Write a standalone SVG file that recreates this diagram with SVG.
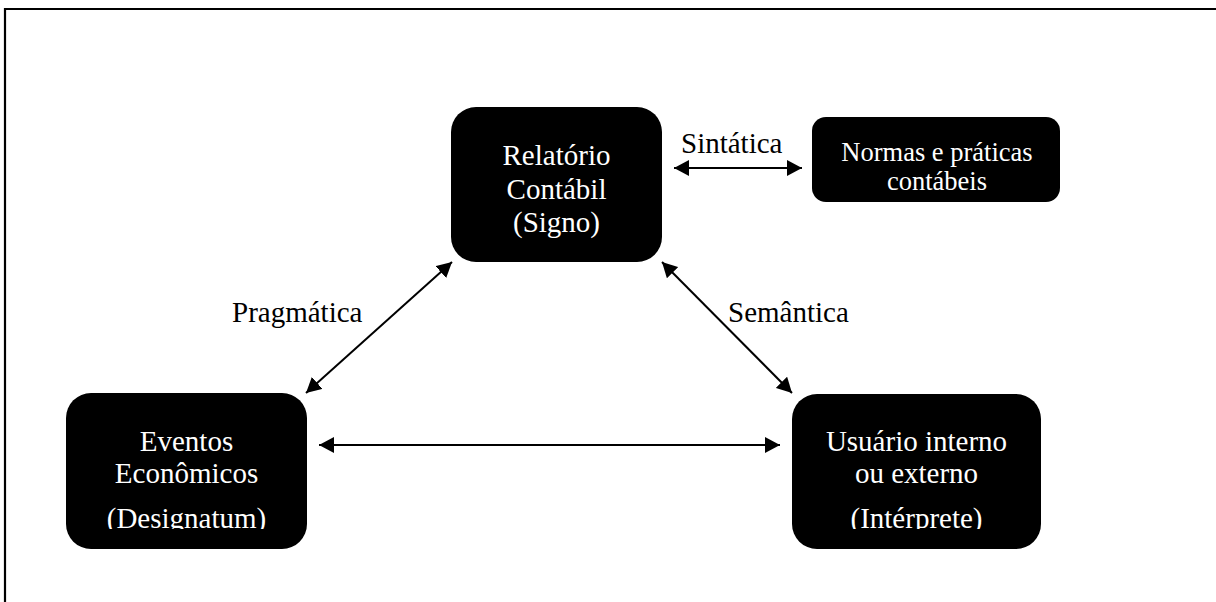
<svg xmlns="http://www.w3.org/2000/svg" width="1216" height="602" viewBox="0 0 1216 602">
  <style>
    .box { fill: #000; }
    .serif { font-family: "Liberation Serif", "Times New Roman", Times, "DejaVu Serif", serif; }
    .node-text { fill: #fff; font-size: 29px; text-anchor: middle; }
    .small { font-size: 26.5px; }
    .label { fill: #000; font-size: 29px; }
    .link { stroke: #000; stroke-width: 2; fill: none; marker-start: url(#head); marker-end: url(#head); }
    .frame { stroke: #000; stroke-width: 2.2; fill: none; }
  </style>
  <defs>
    <marker id="head" viewBox="0 0 15 16" refX="15" refY="8" markerWidth="15" markerHeight="16" markerUnits="userSpaceOnUse" orient="auto-start-reverse">
      <path d="M0,0 L15,8 L0,16 Z" fill="#000"/>
    </marker>
    <!-- the third line of the lower boxes is cut off just under its baseline -->
    <clipPath id="cut-left"><rect x="66" y="393" width="241" height="136"/></clipPath>
    <clipPath id="cut-right"><rect x="792" y="394" width="249" height="135"/></clipPath>
  </defs>

  <!-- page frame (top and left edges only) -->
  <path class="frame" d="M5,602 V9 H1216"/>

  <g id="connectors">
    <line class="link" x1="674" y1="168" x2="802" y2="168"/>
    <line class="link" x1="452" y1="262" x2="306" y2="393"/>
    <line class="link" x1="662" y1="262" x2="792" y2="393"/>
    <line class="link" x1="319" y1="445" x2="780" y2="445"/>
  </g>

  <g id="labels" class="serif" font-family="Liberation Serif, Times New Roman, serif">
    <text class="label" x="681" y="153">Sintática</text>
    <text class="label" x="232" y="322">Pragmática</text>
    <text class="label" x="728" y="322">Semântica</text>
  </g>

  <g id="relatorio" class="serif" font-family="Liberation Serif, Times New Roman, serif">
    <rect class="box" x="451" y="107" width="211" height="155" rx="25" ry="25"/>
    <text class="node-text" x="556.5" y="165">Relatório</text>
    <text class="node-text" x="556.5" y="199">Contábil</text>
    <text class="node-text" x="556.5" y="232">(Signo)</text>
  </g>

  <g id="normas" class="serif" font-family="Liberation Serif, Times New Roman, serif">
    <rect class="box" x="812" y="117" width="248" height="85" rx="14" ry="14"/>
    <text class="node-text small" x="937" y="161">Normas e práticas</text>
    <text class="node-text small" x="937" y="190">contábeis</text>
  </g>

  <g id="eventos" class="serif" font-family="Liberation Serif, Times New Roman, serif">
    <rect class="box" x="66" y="393" width="241" height="156" rx="25" ry="25"/>
    <text class="node-text" x="186.5" y="451">Eventos</text>
    <text class="node-text" x="186.5" y="483">Econômicos</text>
    <text class="node-text" x="186.5" y="528" clip-path="url(#cut-left)">(Designatum)</text>
  </g>

  <g id="usuario" class="serif" font-family="Liberation Serif, Times New Roman, serif">
    <rect class="box" x="792" y="394" width="249" height="155" rx="25" ry="25"/>
    <text class="node-text" x="916.5" y="451">Usuário interno</text>
    <text class="node-text" x="916.5" y="483">ou externo</text>
    <text class="node-text" x="916.5" y="528" clip-path="url(#cut-right)">(Intérprete)</text>
  </g>
</svg>
